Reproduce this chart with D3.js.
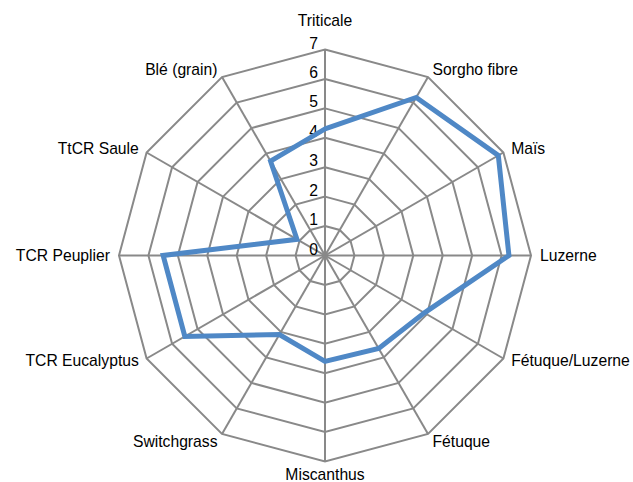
<!DOCTYPE html>
<html>
<head>
<meta charset="utf-8">
<script src="https://cdn.jsdelivr.net/npm/d3@7"></script>
<style>
  html, body { margin: 0; padding: 0; background: #fff; }
  svg { display: block; }
  text { font-family: "Liberation Sans", Arial, sans-serif; fill: #000; }
</style>
</head>
<body>
<svg id="chart" width="633" height="482"></svg>
<script>
const categories = ["Triticale", "Sorgho fibre", "Maïs", "Luzerne", "Fétuque/Luzerne", "Fétuque",
  "Miscanthus", "Switchgrass", "TCR Eucalyptus", "TCR Peuplier", "TtCR Saule", "Blé (grain)"];
const values = [4.3, 6.2, 6.8, 6.25, 3.9, 3.65, 3.6, 3.1, 5.5, 5.5, 1.1, 3.7];
const tickValues = [0, 1, 2, 3, 4, 5, 6, 7];

const W = 633, H = 482;
const cx = 325, cy = 255.5, R = 206;
const svg = d3.select("#chart");
const g = svg.append("g").attr("transform", `translate(${cx},${cy})`);

const r = d3.scaleLinear().domain([0, 7]).range([0, R]);
const angle = d3.scalePoint().domain(categories).range([0, 2 * Math.PI * (categories.length - 1) / categories.length]);

const gridColor = "#898989";
const fontSize = "15.7px";

// rings
tickValues.filter(v => v > 0).forEach(v => {
  const ring = d3.lineRadial()
    .angle(d => angle(d))
    .radius(() => r(v))
    .curve(d3.curveLinearClosed);
  g.append("path").attr("d", ring(categories))
    .attr("fill", "none").attr("stroke", gridColor).attr("stroke-width", 2);
});

// spokes
categories.forEach(c => {
  const a = angle(c);
  g.append("line")
    .attr("x1", 0).attr("y1", 0)
    .attr("x2", r(7) * Math.sin(a)).attr("y2", -r(7) * Math.cos(a))
    .attr("stroke", gridColor).attr("stroke-width", 2);
});

// tick labels
g.selectAll("text.tick").data(tickValues).enter().append("text")
  .attr("class", "tick")
  .attr("x", -7).attr("y", d => -r(d) - 6.5)
  .attr("text-anchor", "end").attr("dominant-baseline", "central")
  .attr("font-size", fontSize)
  .text(d => d);

// data line
const line = d3.lineRadial()
  .angle((d, i) => angle(categories[i]))
  .radius(d => r(d))
  .curve(d3.curveLinearClosed);
g.append("path").attr("d", line(values))
  .attr("fill", "none").attr("stroke", "#4F88C6").attr("stroke-width", 5)
  .attr("stroke-linejoin", "miter");

// category labels
categories.forEach(c => {
  const a = angle(c);
  const s = Math.sin(a), co = Math.cos(a);
  const d = 9;
  let x = (r(7) + d) * s, y = -(r(7) + d) * co;
  let anchor = "middle";
  if (s > 0.01) anchor = "start";
  else if (s < -0.01) anchor = "end";
  if (anchor === "middle") {
    if (co > 0) y = -r(7) - 29; else y = r(7) + 12.5;
  } else if (Math.abs(co) > 0.01 && Math.abs(co) < 0.6) {
    y -= co < 0 ? 3 : 0;
  }
  g.append("text")
    .attr("x", x).attr("y", y)
    .attr("text-anchor", anchor).attr("dominant-baseline", "central")
    .attr("font-size", fontSize)
    .text(c);
});
</script>
</body>
</html>
